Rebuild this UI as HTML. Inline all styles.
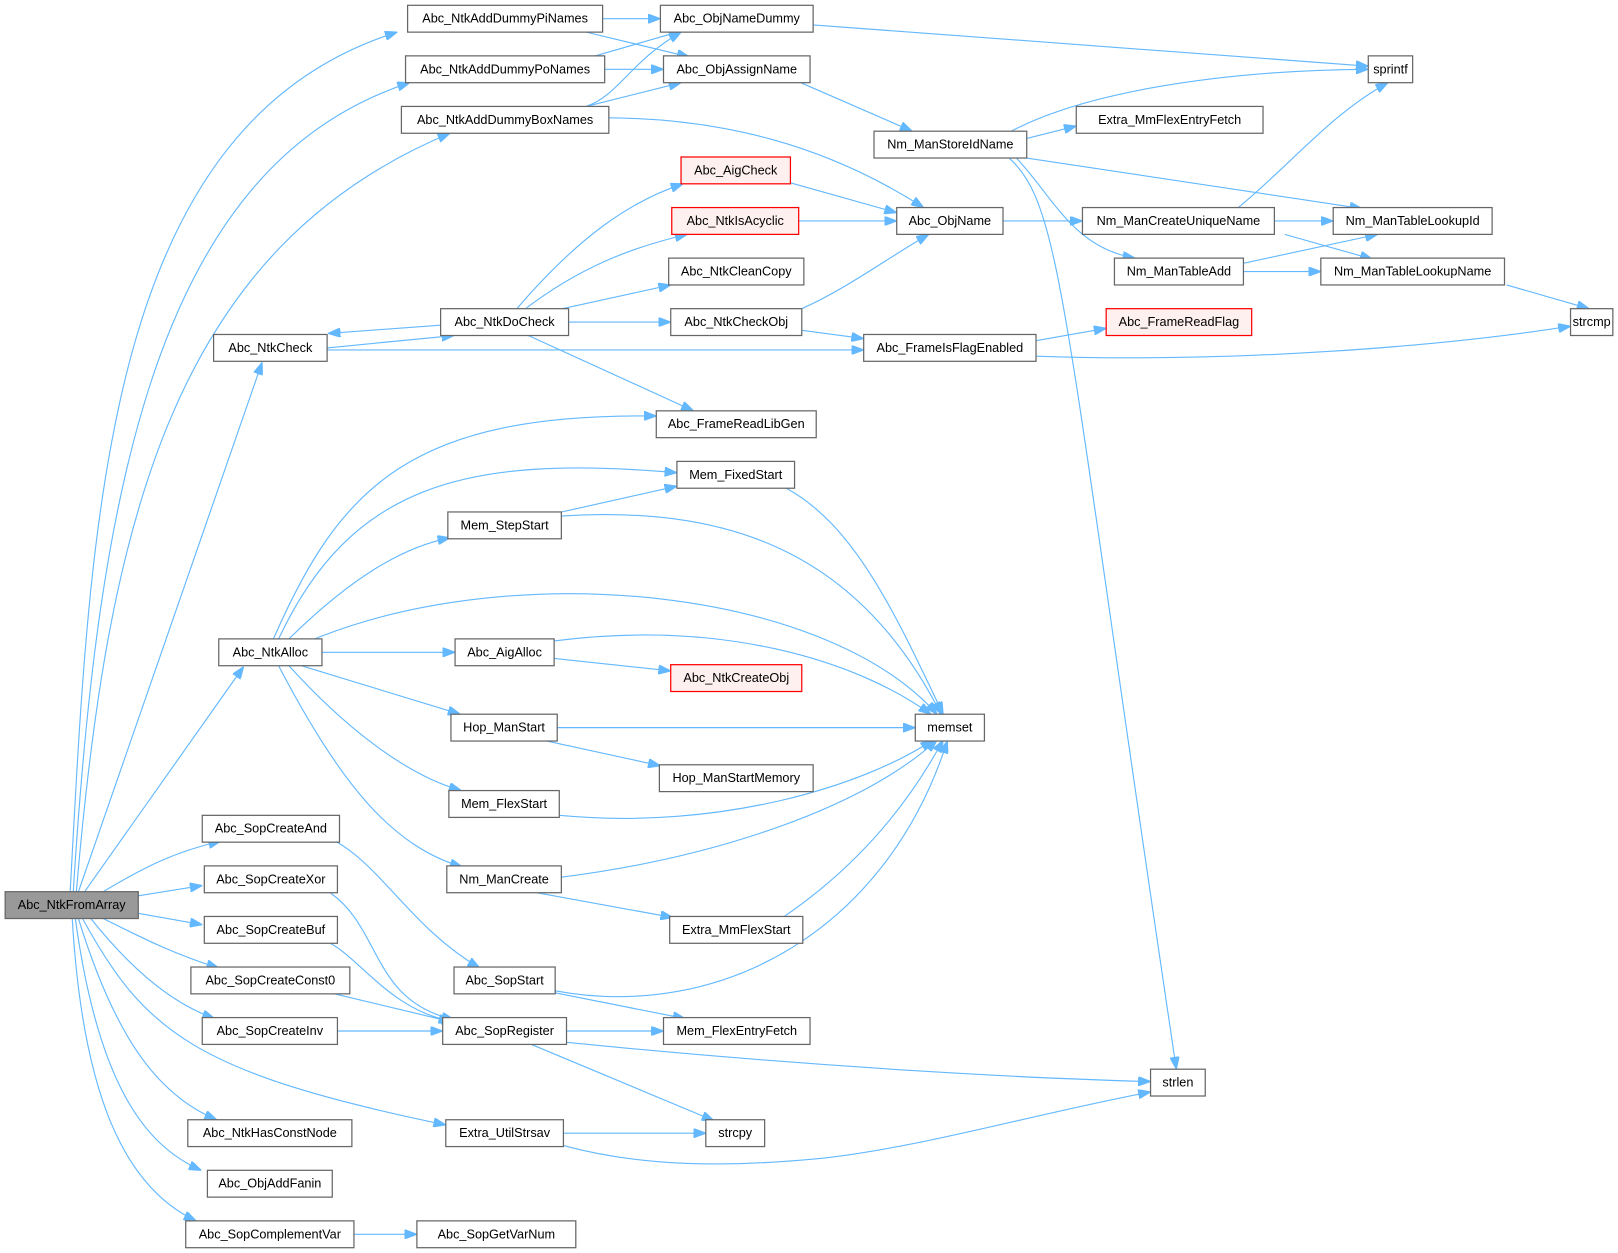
<!DOCTYPE html>
<html><head><meta charset="utf-8"><style>
html,body{margin:0;padding:0;background:#fff;}
svg{display:block;}
text{font-family:"Liberation Sans",Arial,sans-serif;font-size:12.3px;fill:#000;text-anchor:middle;dominant-baseline:central;}
.b{fill:#fff;stroke:#666;stroke-width:1.2;}
.r{fill:#fff0f0;stroke:#ff0000;stroke-width:1.2;}
.g{fill:#999;stroke:#666;stroke-width:1.2;}
path{fill:none;stroke:#63b8ff;stroke-width:1.1;marker-end:url(#a);}
</style></head><body>
<svg width="1618" height="1253" viewBox="0 0 1568 1214" xmlns="http://www.w3.org/2000/svg">
<defs><marker id="a" viewBox="0 0 12 9" refX="12" refY="4.5" markerWidth="12" markerHeight="9" markerUnits="userSpaceOnUse" orient="auto"><path d="M0,0 L12,4.5 L0,9 Z" style="fill:#63b8ff;stroke:#63b8ff;marker-end:none"/></marker></defs>

<path d="M68,864 C88,500 100,120 385,31"/>
<path d="M71,864 C95,480 150,160 397,80"/>
<path d="M74,864 C105,500 170,240 436,129"/>
<path d="M76,864 L254,351"/>
<path d="M82,864 L236,646"/>
<path d="M100,864 C140,840 170,825 214,815"/>
<path d="M134,868 L196,858"/>
<path d="M134,885 L196,896"/>
<path d="M100,890 C140,910 170,925 212,938"/>
<path d="M88,890 C120,930 160,970 208,987"/>
<path d="M80,890 C140,1000 190,1040 432,1090"/>
<path d="M76,890 C110,1000 150,1060 210,1085"/>
<path d="M73,890 C95,1050 140,1110 195,1134"/>
<path d="M70,890 C80,1060 120,1150 190,1183"/>

<path d="M584,18 L640,18"/>
<path d="M568,31 L668,55"/>
<path d="M570,56 L660,30"/>
<path d="M586,67 L643,67"/>
<path d="M568,103 C600,92 610,60 660,31"/>
<path d="M568,103 L660,80"/>
<path d="M590,114 C700,115 800,140 895,201"/>
<path d="M788,24 L1326,64"/>
<path d="M776,80 L884,127"/>
<path d="M980,127 C1050,90 1180,68 1326,67"/>
<path d="M995,134 L1043,122"/>
<path d="M995,153 L1320,202"/>
<path d="M985,153 C1020,190 1040,240 1100,250"/>
<path d="M978,153 C1030,200 1030,300 1140,1036"/>
<path d="M972,214 L1049,214"/>
<path d="M1200,201 C1250,160 1290,110 1345,80"/>
<path d="M1235,214 L1292,214"/>
<path d="M1245,227 L1330,251"/>
<path d="M1205,255 L1335,227"/>
<path d="M1205,263 L1280,263"/>
<path d="M1460,276 L1540,299"/>
<path d="M1004,330 L1072,318"/>
<path d="M1004,345 C1200,352 1400,335 1522,316"/>
<path d="M766,177 L869,206"/>
<path d="M774,214 L869,214"/>
<path d="M777,299 C820,280 860,250 900,227"/>
<path d="M777,320 L837,328"/>
<path d="M500,300 C560,230 610,195 662,178"/>
<path d="M508,300 C560,260 610,240 666,227"/>
<path d="M545,299 L650,276"/>
<path d="M551,312 L650,312"/>
<path d="M427,315 L318,323"/>
<path d="M512,325 L672,398"/>
<path d="M317,337 L440,325"/>
<path d="M317,339 L837,339"/>
<path d="M265,619 C330,470 400,400 636,403"/>
<path d="M270,619 C340,470 450,440 656,458"/>
<path d="M280,619 C340,560 390,530 436,521"/>
<path d="M305,619 C500,540 800,570 908,692"/>
<path d="M312,632 L441,632"/>
<path d="M292,645 L446,692"/>
<path d="M280,645 C330,700 390,750 447,766"/>
<path d="M270,645 C330,760 380,820 448,840"/>
<path d="M540,497 L656,471"/>
<path d="M544,500 C700,490 830,530 912,692"/>
<path d="M762,473 C830,510 870,600 914,692"/>
<path d="M537,621 C700,600 830,640 902,692"/>
<path d="M537,638 L650,650"/>
<path d="M540,705 L887,705"/>
<path d="M530,718 L640,742"/>
<path d="M542,790 C700,805 840,760 904,717"/>
<path d="M544,850 C700,830 840,780 908,717"/>
<path d="M520,865 L652,889"/>
<path d="M760,888 C830,840 880,780 914,717"/>
<path d="M538,960 C700,990 860,900 918,718"/>
<path d="M538,962 L664,987"/>
<path d="M325,815 C370,840 400,900 465,938"/>
<path d="M320,865 C370,900 360,970 440,988"/>
<path d="M320,914 C350,930 380,980 440,990"/>
<path d="M320,962 L437,990"/>
<path d="M327,999 L429,999"/>
<path d="M549,999 L643,999"/>
<path d="M549,1010 C800,1035 1000,1045 1115,1048"/>
<path d="M515,1012 L692,1086"/>
<path d="M546,1098 L684,1098"/>
<path d="M546,1110 C620,1130 700,1132 800,1122 C900,1110 1000,1080 1115,1058"/>
<path d="M343,1196 L404,1196"/>

<rect class="g" x="5" y="864" width="129" height="26"/><text x="69.5" y="877">Abc_NtkFromArray</text>
<rect class="b" x="395" y="5" width="189" height="26"/><text x="489.5" y="18">Abc_NtkAddDummyPiNames</text>
<rect class="b" x="393" y="54" width="193" height="26"/><text x="489.5" y="67">Abc_NtkAddDummyPoNames</text>
<rect class="b" x="389" y="103" width="201" height="26"/><text x="489.5" y="116">Abc_NtkAddDummyBoxNames</text>
<rect class="b" x="207" y="324" width="110" height="26"/><text x="262" y="337">Abc_NtkCheck</text>
<rect class="b" x="212" y="619" width="100" height="26"/><text x="262" y="632">Abc_NtkAlloc</text>
<rect class="b" x="196" y="790" width="133" height="26"/><text x="262.5" y="803">Abc_SopCreateAnd</text>
<rect class="b" x="198" y="839" width="129" height="26"/><text x="262.5" y="852">Abc_SopCreateXor</text>
<rect class="b" x="198" y="888" width="129" height="26"/><text x="262.5" y="901">Abc_SopCreateBuf</text>
<rect class="b" x="185" y="937" width="154" height="26"/><text x="262" y="950">Abc_SopCreateConst0</text>
<rect class="b" x="196" y="986" width="131" height="26"/><text x="261.5" y="999">Abc_SopCreateInv</text>
<rect class="b" x="182" y="1085" width="159" height="26"/><text x="261.5" y="1098">Abc_NtkHasConstNode</text>
<rect class="b" x="201" y="1134" width="121" height="26"/><text x="261.5" y="1147">Abc_ObjAddFanin</text>
<rect class="b" x="180" y="1183" width="163" height="26"/><text x="261.5" y="1196">Abc_SopComplementVar</text>

<rect class="b" x="427" y="299" width="124" height="26"/><text x="489" y="312">Abc_NtkDoCheck</text>
<rect class="b" x="434" y="496" width="110" height="26"/><text x="489" y="509">Mem_StepStart</text>
<rect class="b" x="441" y="619" width="96" height="26"/><text x="489" y="632">Abc_AigAlloc</text>
<rect class="b" x="437" y="692" width="103" height="26"/><text x="488.5" y="705">Hop_ManStart</text>
<rect class="b" x="435" y="766" width="107" height="26"/><text x="488.5" y="779">Mem_FlexStart</text>
<rect class="b" x="433" y="839" width="111" height="26"/><text x="488.5" y="852">Nm_ManCreate</text>
<rect class="b" x="440" y="937" width="98" height="26"/><text x="489" y="950">Abc_SopStart</text>
<rect class="b" x="429" y="986" width="120" height="26"/><text x="489" y="999">Abc_SopRegister</text>
<rect class="b" x="432" y="1085" width="114" height="26"/><text x="489" y="1098">Extra_UtilStrsav</text>
<rect class="b" x="404" y="1183" width="154" height="26"/><text x="481" y="1196">Abc_SopGetVarNum</text>

<rect class="b" x="640" y="5" width="148" height="26"/><text x="714" y="18">Abc_ObjNameDummy</text>
<rect class="b" x="643" y="54" width="142" height="26"/><text x="714" y="67">Abc_ObjAssignName</text>
<rect class="r" x="660" y="152" width="106" height="26"/><text x="713" y="165">Abc_AigCheck</text>
<rect class="r" x="651" y="201" width="123" height="26"/><text x="712.5" y="214">Abc_NtkIsAcyclic</text>
<rect class="b" x="648" y="250" width="131" height="26"/><text x="713.5" y="263">Abc_NtkCleanCopy</text>
<rect class="b" x="650" y="299" width="127" height="26"/><text x="713.5" y="312">Abc_NtkCheckObj</text>
<rect class="b" x="636" y="398" width="155" height="26"/><text x="713.5" y="411">Abc_FrameReadLibGen</text>
<rect class="b" x="656" y="447" width="114" height="26"/><text x="713" y="460">Mem_FixedStart</text>
<rect class="r" x="650" y="644" width="127" height="26"/><text x="713.5" y="657">Abc_NtkCreateObj</text>
<rect class="b" x="639" y="741" width="149" height="26"/><text x="713.5" y="754">Hop_ManStartMemory</text>
<rect class="b" x="649" y="888" width="129" height="26"/><text x="713.5" y="901">Extra_MmFlexStart</text>
<rect class="b" x="643" y="986" width="142" height="26"/><text x="714" y="999">Mem_FlexEntryFetch</text>
<rect class="b" x="684" y="1085" width="57" height="26"/><text x="712.5" y="1098">strcpy</text>

<rect class="b" x="847" y="127" width="148" height="26"/><text x="921" y="140">Nm_ManStoreIdName</text>
<rect class="b" x="869" y="201" width="103" height="26"/><text x="920.5" y="214">Abc_ObjName</text>
<rect class="b" x="837" y="324" width="167" height="26"/><text x="920.5" y="337">Abc_FrameIsFlagEnabled</text>
<rect class="b" x="887" y="692" width="67" height="26"/><text x="920.5" y="705">memset</text>

<rect class="b" x="1043" y="103" width="181" height="26"/><text x="1133.5" y="116">Extra_MmFlexEntryFetch</text>
<rect class="b" x="1049" y="201" width="186" height="26"/><text x="1142" y="214">Nm_ManCreateUniqueName</text>
<rect class="b" x="1080" y="250" width="125" height="26"/><text x="1142.5" y="263">Nm_ManTableAdd</text>
<rect class="r" x="1072" y="299" width="141" height="26"/><text x="1142.5" y="312">Abc_FrameReadFlag</text>
<rect class="b" x="1115" y="1036" width="53" height="26"/><text x="1141.5" y="1049">strlen</text>

<rect class="b" x="1326" y="54" width="43" height="26"/><text x="1347.5" y="67">sprintf</text>
<rect class="b" x="1292" y="201" width="154" height="26"/><text x="1369" y="214">Nm_ManTableLookupId</text>
<rect class="b" x="1280" y="250" width="178" height="26"/><text x="1369" y="263">Nm_ManTableLookupName</text>
<rect class="b" x="1522" y="299" width="41" height="26"/><text x="1542.5" y="312">strcmp</text>
</svg>
</body></html>
